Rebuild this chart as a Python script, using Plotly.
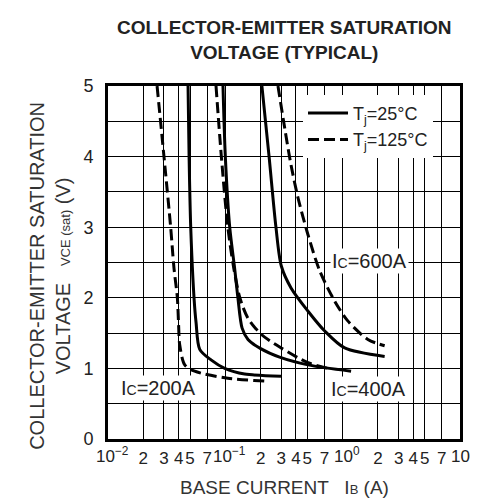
import math
import plotly.graph_objects as go

# ---- data ----
ic200_25_x = [0.0481, 0.0491, 0.0507, 0.0541, 0.0563, 0.0605, 0.0755, 0.0988, 0.146, 0.298]
ic200_25_y = [5.0, 4.0, 3.0, 2.0, 1.65, 1.27, 1.12, 1.0, 0.92, 0.89]
ic200_125_x = [0.0262, 0.0300, 0.0342, 0.0365, 0.0390, 0.0400, 0.0408, 0.0451, 0.0548, 0.105, 0.217]
ic200_125_y = [5.0, 4.0, 3.0, 2.42, 2.0, 1.6, 1.34, 1.05, 0.96, 0.86, 0.82]

ic400_25_x = [0.0955, 0.100, 0.109, 0.120, 0.128, 0.139, 0.156, 0.200, 0.290, 0.507, 1.18]
ic400_25_y = [5.0, 4.0, 3.0, 2.42, 2.0, 1.57, 1.41, 1.28, 1.16, 1.05, 0.96]
ic400_125_x = [0.0833, 0.0925, 0.105, 0.118, 0.133, 0.156, 0.203, 0.299, 0.507, 0.80]
ic400_125_y = [5.0, 4.0, 3.0, 2.42, 2.0, 1.71, 1.48, 1.29, 1.08, 0.99]

ic600_25_x = [0.205, 0.236, 0.270, 0.300, 0.363, 0.507, 0.703, 1.04, 2.28]
ic600_25_y = [5.0, 4.0, 3.0, 2.45, 2.14, 1.81, 1.53, 1.29, 1.17]
ic600_125_x = [0.281, 0.321, 0.363, 0.417, 0.507, 0.638, 0.857, 1.11, 1.64, 2.28]
ic600_125_y = [5.0, 4.4, 3.88, 3.41, 2.89, 2.38, 1.95, 1.67, 1.41, 1.32]

# x axis: digit ticks (2 3 4 5 7 in each decade) and decade ticks
x_tickvals = [0.02, 0.03, 0.04, 0.05, 0.07,
              0.2, 0.3, 0.4, 0.5, 0.7,
              2, 3, 4, 5, 7]
x_ticktext = ["2", "3", "4", "5", "7",
              "2", "3", "4", "5", "7",
              "2", "3", "4", "5", "7"]
decade_vals = [0.01, 0.1, 1, 10]
decade_text = ["10<sup>\u22122</sup>", "10<sup>\u22121</sup>", "10<sup>0</sup>", "10<sup>1</sup>"]
y_tickvals = [0, 1, 2, 3, 4, 5]
y_ticktext = ["0", "1", "2", "3", "4", "5"]

curve_labels = ["I<span style='font-size:14px'>C</span>=200A",
                "I<span style='font-size:14px'>C</span>=400A",
                "I<span style='font-size:14px'>C</span>=600A"]
label_x = [0.0267, 1.65, 1.68]
label_y = [0.72, 0.71, 2.52]

FONT = "Liberation Sans, Arial, Helvetica, sans-serif"
TICKSIZE = 17
solid = dict(color="black", width=3)
dashed = dict(color="black", width=3, dash="11px,5px")

fig = go.Figure()
for xs, ys, ln in [(ic200_25_x, ic200_25_y, solid), (ic200_125_x, ic200_125_y, dashed),
                   (ic400_25_x, ic400_25_y, solid), (ic400_125_x, ic400_125_y, dashed),
                   (ic600_25_x, ic600_25_y, solid), (ic600_125_x, ic600_125_y, dashed)]:
    fig.add_trace(go.Scatter(x=xs, y=ys, mode="lines", line=dict(shape="spline", smoothing=0.8, **ln),
                             showlegend=False, hoverinfo="skip"))

# legend entries
fig.add_trace(go.Scatter(x=[None], y=[None], mode="lines", line=solid,
                         name="T<sub>j</sub>=25°C"))
fig.add_trace(go.Scatter(x=[None], y=[None], mode="lines", line=dashed,
                         name="T<sub>j</sub>=125°C"))

for t, xv, yv in zip(curve_labels, label_x, label_y):
    fig.add_annotation(x=math.log10(xv), y=yv, xref="x", yref="y", text=t, showarrow=False,
                       xanchor="center", yanchor="middle",
                       font=dict(size=20, color="#222", family=FONT),
                       bgcolor="white", borderpad=1)

# decade tick labels (slightly right of their grid lines, as in the reference)
for v, t in zip(decade_vals, decade_text):
    fig.add_annotation(x=math.log10(v), y=0, xref="x", yref="paper", text=t, showarrow=False,
                       xanchor="center", yanchor="top", xshift=4, yshift=-3,
                       font=dict(size=TICKSIZE, color="#222", family=FONT))

fig.add_annotation(xref="paper", yref="paper", x=0.5, y=1.13, xanchor="center", yanchor="middle",
                   text="<b>COLLECTOR-EMITTER SATURATION<br>VOLTAGE (TYPICAL)</b>",
                   showarrow=False, font=dict(size=19, color="#222", family=FONT))
fig.add_annotation(xref="paper", yref="paper", x=-0.165, y=0.462, textangle=-90,
                   xanchor="center", yanchor="middle",
                   text="COLLECTOR-EMITTER SATURATION<br>VOLTAGE   <span style='font-size:13px'>VCE (sat)</span> (V)",
                   showarrow=False, font=dict(size=20, color="#333", family=FONT))
fig.add_annotation(xref="paper", yref="paper", x=0.5, y=(431 - 479) / 353,
                   xanchor="center", yanchor="middle",
                   text="BASE CURRENT   I<span style='font-size:13px'>B</span> (A)",
                   showarrow=False, font=dict(size=19, color="#333", family=FONT))

fig.update_layout(
    width=478, height=500,
    margin=dict(l=100, r=26, t=78, b=69),
    paper_bgcolor="white", plot_bgcolor="white",
    font=dict(family=FONT, color="#222"),
    showlegend=True,
    legend=dict(x=0.554, y=0.975, xanchor="left", yanchor="top",
                bgcolor="white", borderwidth=0, itemwidth=40,
                font=dict(size=18, family=FONT, color="#222"),
                tracegroupgap=0),
)
fig.update_xaxes(type="log", range=[-2, 1], tickvals=x_tickvals, ticktext=x_ticktext,
                 tickangle=0, showgrid=True, gridcolor="black", gridwidth=1.3,
                 minor=dict(tickvals=decade_vals, showgrid=True, gridcolor="black",
                            gridwidth=1.3, ticks=""),
                 showline=True, linecolor="black", linewidth=3, mirror=True,
                 ticks="", ticklabelstandoff=2, tickfont=dict(size=TICKSIZE, family=FONT, color="#222"),
                 zeroline=False, automargin=False)
fig.update_yaxes(range=[0, 5], tickvals=y_tickvals, ticktext=y_ticktext,
                 showgrid=True, gridcolor="black", gridwidth=1.3,
                 minor=dict(dtick=0.5, showgrid=True, gridcolor="black", gridwidth=1.3, ticks=""),
                 showline=True, linecolor="black", linewidth=3, mirror=True,
                 ticks="", ticklabelstandoff=8, tickfont=dict(size=18, family=FONT, color="#222"),
                 zeroline=False, automargin=False)

fig.write_html("out.html")
